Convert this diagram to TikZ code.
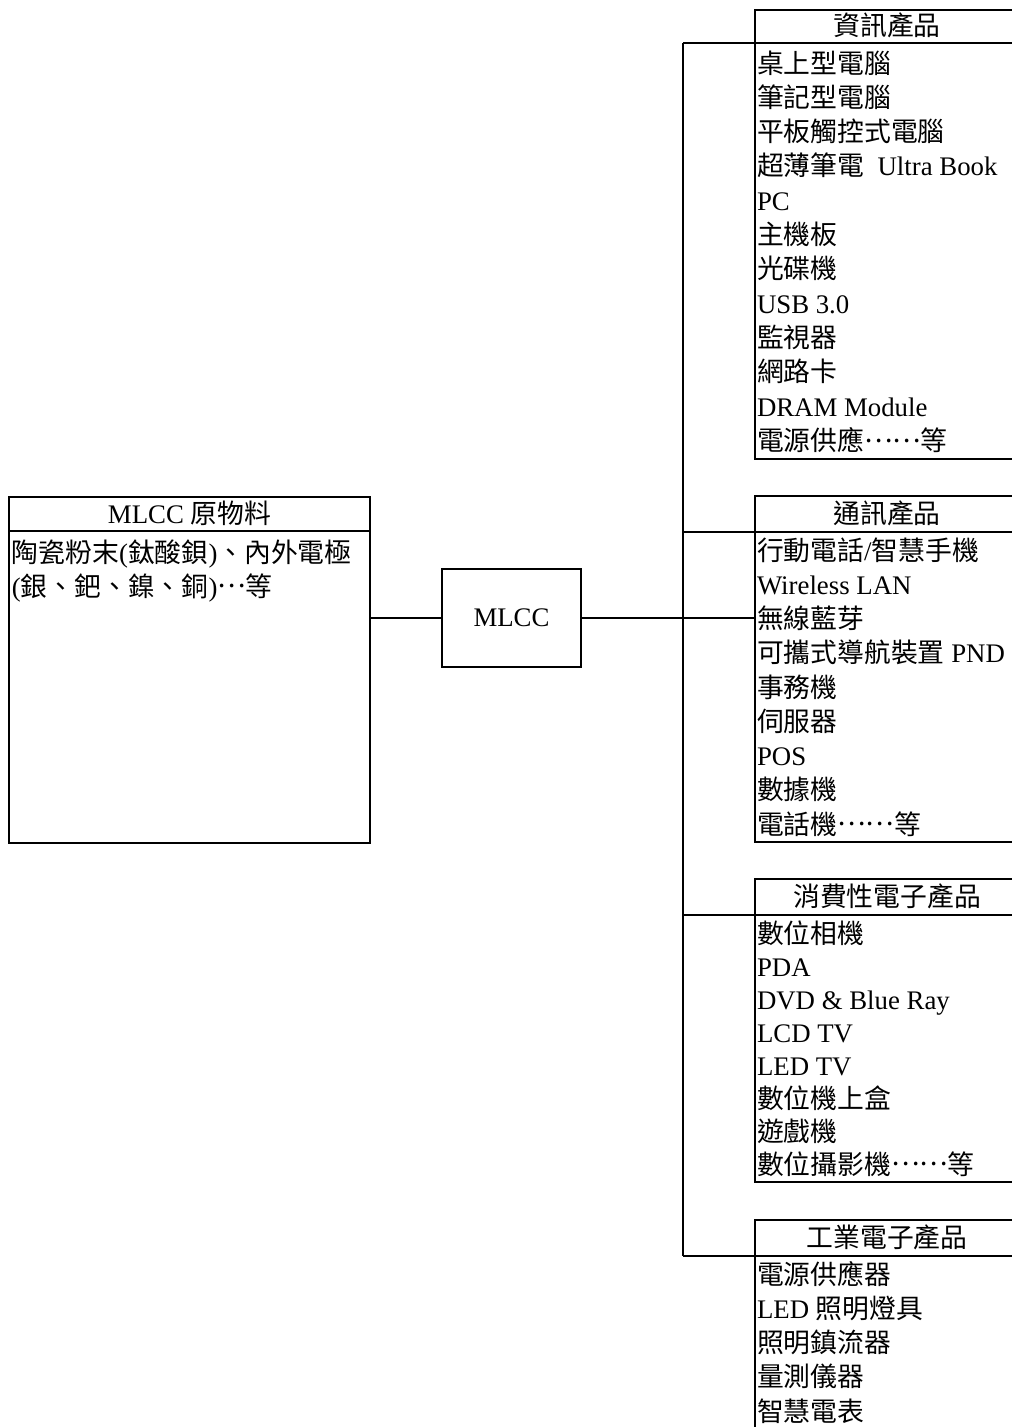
\documentclass[tikz,border=0pt]{standalone}
\usepackage{fontspec}
\setmainfont{Liberation Serif}
\newfontfamily\cjkfont{Noto Sans CJK TC}
\newcommand\C[1]{{\cjkfont #1}}
\newcommand\middots[1]{\smash{\raisebox{0.3em}{\cjkfont #1}}}
\begin{document}
\begin{tikzpicture}[x=1pt,y=-1pt,
  every node/.style={inner sep=0pt, outer sep=0pt},
  box/.style={draw, line width=2.6pt, anchor=north west},
  txt/.style={anchor=base west, font=\fontsize{26.8}{30}\selectfont},
  hdr/.style={anchor=base, font=\fontsize{26.8}{30}\selectfont},
  conn/.style={line width=2.6pt}]
\useasboundingbox (0,0) rectangle (1012,1427);
\clip (0,0) rectangle (1012,1427);

% left raw material box
\node[box, minimum width=361pt, minimum height=34pt] (rawh) at (9,497) {};
\node[box, minimum width=361pt, minimum height=312pt] (raw) at (9,531) {};
\node[hdr] (rawt) at (189.5,523) {MLCC \C{原物料}};
\node[txt] (raw1) at (12,562) {\C{陶瓷粉末}(\C{鈦酸鋇})\C{、內外電極}};
\node[txt] (raw2) at (12,596) {(\C{銀、鈀、鎳、銅})\middots{…}\C{等}};

% MLCC box
\node[draw, line width=2.6pt, minimum width=139pt, minimum height=98pt,
      font=\fontsize{26.8}{30}\selectfont] (mlcc) at (511.5,618) {MLCC};

% right boxes
\node[box, minimum width=270pt, minimum height=33pt] (h1) at (755,10) {};
\node[box, minimum width=270pt, minimum height=416pt] (b1) at (755,43) {};
\node[hdr] (h1t) at (887,35.5) {\C{資訊產品}};

\node[box, minimum width=270pt, minimum height=36pt] (h2) at (755,496) {};
\node[box, minimum width=270pt, minimum height=310pt] (b2) at (755,532) {};
\node[hdr] (h2t) at (887,523) {\C{通訊產品}};

\node[box, minimum width=270pt, minimum height=36pt] (h3) at (755,879) {};
\node[box, minimum width=270pt, minimum height=267pt] (b3) at (755,915) {};
\node[hdr] (h3t) at (887,906) {\C{消費性電子產品}};

\node[box, minimum width=270pt, minimum height=36pt] (h4) at (755,1220) {};
\node[box, minimum width=270pt, minimum height=220pt] (b4) at (755,1256) {};
\node[hdr] (h4t) at (887,1247) {\C{工業電子產品}};

% items
\foreach \lbl [count=\i] in {{\C{桌上型電腦}},{\C{筆記型電腦}},{\C{平板觸控式電腦}},
  {\C{超薄筆電}\ \ Ultra Book},{PC},{\C{主機板}},{\C{光碟機}},{USB 3.0},
  {\C{監視器}},{\C{網路卡}},{DRAM Module},{\C{電源供應}\middots{……}\C{等}}}
  \node[txt] (b1-\i) at (757,{73+34.3*(\i-1)}) {\lbl};

\foreach \lbl [count=\i] in {{\C{行動電話}/\C{智慧手機}},{Wireless LAN},{\C{無線藍芽}},
  {\C{可攜式導航裝置} PND},{\C{事務機}},{\C{伺服器}},{POS},{\C{數據機}},{\C{電話機}\middots{……}\C{等}}}
  \node[txt] (b2-\i) at (757,{560+34.25*(\i-1)}) {\lbl};

\foreach \lbl [count=\i] in {{\C{數位相機}},{PDA},{DVD \& Blue Ray},{LCD TV},{LED TV},
  {\C{數位機上盒}},{\C{遊戲機}},{\C{數位攝影機}\middots{……}\C{等}}}
  \node[txt] (b3-\i) at (757,{943+33*(\i-1)}) {\lbl};

\foreach \lbl [count=\i] in {{\C{電源供應器}},{LED \C{照明燈具}},{\C{照明鎮流器}},
  {\C{量測儀器}},{\C{智慧電表}}}
  \node[txt] (b4-\i) at (757,{1284+34.25*(\i-1)}) {\lbl};

% connectors
\coordinate (t1) at (683,43);
\coordinate (t4) at (683,1256);
\draw[conn] (t1) -- (t4);
\draw[conn] (t1) -- (b1.north west);
\draw[conn] (b2.north west -| t1) -- (b2.north west);
\draw[conn] (b3.north west -| t1) -- (b3.north west);
\draw[conn] (t4) -- (b4.north west);
\draw[conn] (raw.east |- mlcc.west) -- (mlcc.west);
\draw[conn] (mlcc.east) -- (mlcc.east -| b2.west);
\end{tikzpicture}
\end{document}
